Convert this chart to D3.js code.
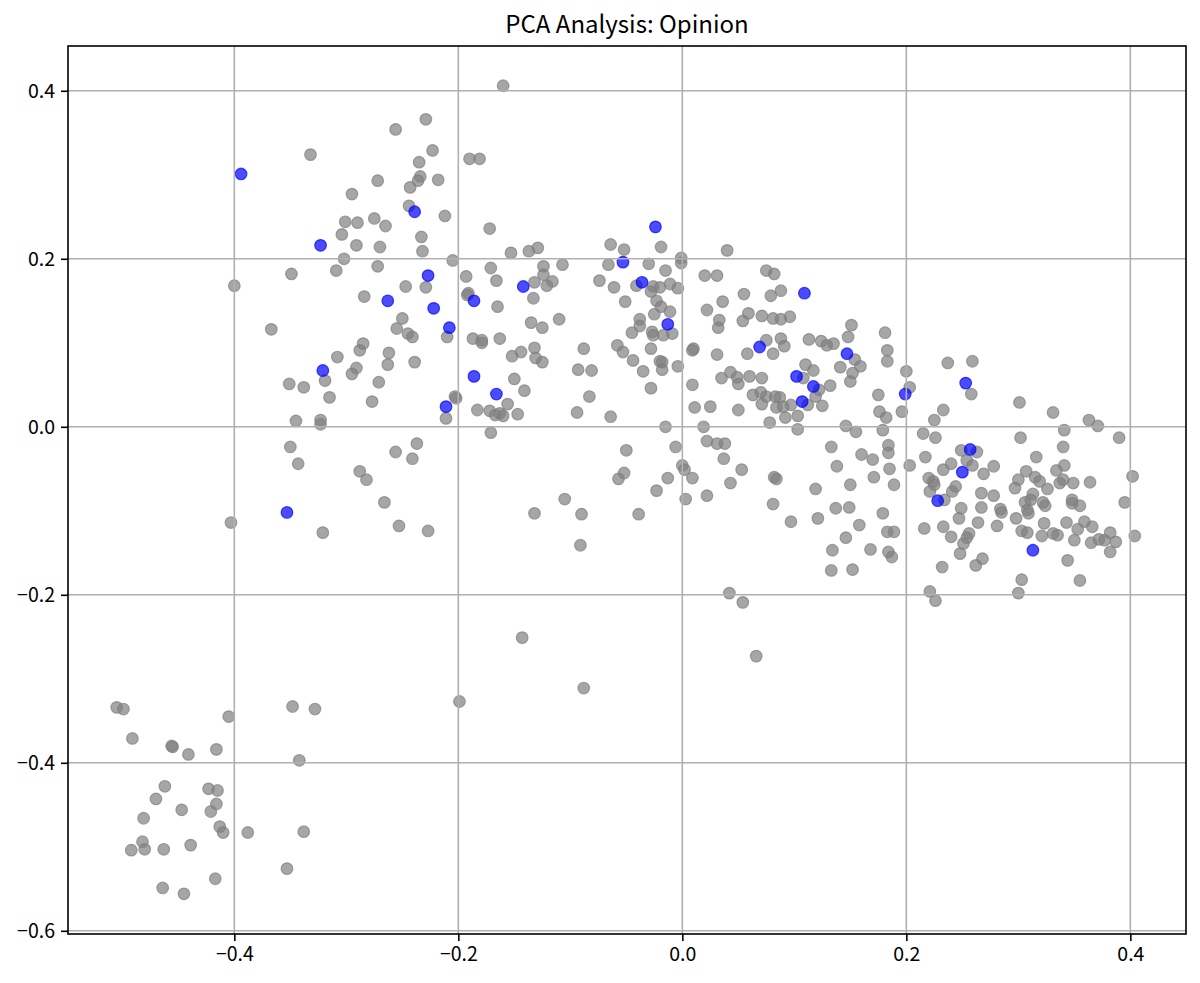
<!DOCTYPE html>
<html>
<head>
<meta charset="utf-8">
<script src="https://cdn.jsdelivr.net/npm/d3@7"></script>
<style>
  body { margin: 0; background: #fff; }
  svg text { font-family: "Noto Sans CJK JP", "Noto Sans", sans-serif; }
</style>
</head>
<body>
<svg id="pca-chart" width="1200" height="983"></svg>
<script>
const chartTitle = "PCA Analysis: Opinion";

const xTicks = [-0.4, -0.2, 0.0, 0.2, 0.4];
const yTicks = [-0.6, -0.4, -0.2, 0.0, 0.2, 0.4];

// grey points (all other documents)
const otherPoints = [
  [-0.160,0.406],[-0.229,0.366],[-0.256,0.354],[-0.332,0.324],[-0.223,0.329],[-0.235,0.315],
  [-0.190,0.319],[-0.181,0.319],[-0.272,0.293],[-0.234,0.298],[-0.236,0.293],[-0.243,0.285],
  [-0.218,0.294],[-0.295,0.277],[-0.244,0.263],[-0.212,0.251],[-0.301,0.244],[-0.290,0.243],
  [-0.275,0.248],[-0.265,0.239],[-0.172,0.236],[-0.304,0.229],[-0.291,0.216],[-0.270,0.214],
  [-0.233,0.226],[-0.232,0.209],[-0.153,0.207],[-0.302,0.200],[-0.309,0.186],[-0.272,0.191],
  [-0.205,0.198],[-0.349,0.182],[-0.400,0.168],[-0.247,0.167],[-0.229,0.166],[-0.193,0.179],
  [-0.171,0.189],[-0.166,0.174],[-0.191,0.159],[-0.192,0.157],[-0.165,0.143],[-0.284,0.155],
  [-0.250,0.129],[-0.367,0.116],[-0.255,0.117],[-0.245,0.111],[-0.241,0.107],[-0.210,0.107],
  [-0.187,0.105],[-0.179,0.103],[-0.179,0.100],[-0.163,0.105],[-0.285,0.099],[-0.288,0.091],
  [-0.308,0.083],[-0.262,0.088],[-0.263,0.074],[-0.239,0.077],[-0.291,0.070],[-0.295,0.063],
  [-0.319,0.055],[-0.271,0.053],[-0.351,0.051],[-0.338,0.047],[-0.203,0.036],[-0.202,0.034],
  [-0.315,0.035],[-0.277,0.030],[-0.211,0.010],[-0.183,0.020],[-0.172,0.019],[-0.167,0.014],
  [-0.163,0.016],[-0.345,0.007],[-0.323,0.008],[-0.323,0.003],[-0.171,-0.007],[-0.350,-0.024],
  [-0.237,-0.020],[-0.256,-0.030],[-0.241,-0.038],[-0.343,-0.044],[-0.288,-0.053],[-0.282,-0.063],
  [-0.266,-0.090],[-0.403,-0.114],[-0.253,-0.118],[-0.227,-0.124],[-0.321,-0.126],
  [-0.137,0.209],[-0.129,0.213],[-0.064,0.217],[-0.052,0.211],[-0.019,0.214],[0.040,0.210],
  [-0.001,0.201],[-0.001,0.195],[-0.124,0.191],[-0.107,0.193],[-0.066,0.193],[-0.030,0.194],
  [-0.015,0.186],[-0.124,0.181],[-0.116,0.173],[-0.121,0.168],[-0.132,0.172],[-0.133,0.153],
  [-0.074,0.174],[-0.061,0.166],[-0.041,0.168],[-0.026,0.167],[-0.020,0.166],[-0.011,0.170],
  [-0.004,0.165],[-0.028,0.161],[-0.051,0.149],[-0.023,0.150],[-0.019,0.143],[-0.011,0.137],
  [-0.025,0.134],[0.020,0.180],[0.031,0.180],[0.036,0.149],[0.022,0.139],[0.033,0.127],
  [0.032,0.118],[-0.135,0.124],[-0.125,0.118],[-0.110,0.128],[-0.038,0.128],[-0.038,0.120],
  [-0.045,0.112],[-0.027,0.113],[-0.026,0.109],[-0.017,0.109],[-0.009,0.111],[-0.144,0.089],
  [-0.152,0.084],[-0.132,0.094],[-0.131,0.082],[-0.125,0.077],[-0.088,0.093],[-0.058,0.097],
  [-0.053,0.089],[-0.028,0.093],[-0.044,0.079],[-0.020,0.078],[-0.018,0.077],[-0.018,0.068],
  [-0.004,0.072],[-0.035,0.066],[0.010,0.093],[0.009,0.091],[0.031,0.086],[-0.093,0.068],
  [-0.081,0.067],[-0.150,0.057],[-0.141,0.043],[-0.028,0.046],[0.009,0.050],[0.035,0.058],
  [0.043,0.065],[0.049,0.059],[0.050,0.051],[-0.083,0.036],[-0.156,0.027],[-0.160,0.013],
  [-0.147,0.015],[-0.094,0.017],[-0.064,0.012],[0.011,0.023],[0.025,0.024],[0.050,0.020],
  [-0.015,0.000],[0.019,0.000],[-0.050,-0.028],[-0.006,-0.024],[0.022,-0.017],[0.031,-0.020],
  [0.038,-0.020],[0.037,-0.038],[0.000,-0.046],[0.002,-0.051],[0.009,-0.061],[-0.013,-0.061],
  [-0.052,-0.055],[-0.057,-0.062],[0.053,-0.051],[0.043,-0.067],[-0.023,-0.076],[0.003,-0.086],
  [0.022,-0.082],[-0.105,-0.086],[-0.132,-0.103],[-0.090,-0.104],[-0.039,-0.104],[-0.091,-0.141],
  [0.042,-0.198],[0.054,-0.209],[-0.143,-0.251],[-0.088,-0.311],[-0.199,-0.327],[0.066,-0.273],
  [0.075,0.186],[0.082,0.182],[0.055,0.158],[0.079,0.156],[0.088,0.162],[0.059,0.135],
  [0.054,0.126],[0.071,0.132],[0.081,0.129],[0.088,0.128],[0.096,0.131],[0.151,0.121],
  [0.148,0.107],[0.181,0.112],[0.075,0.103],[0.088,0.105],[0.091,0.096],[0.081,0.087],
  [0.058,0.087],[0.113,0.104],[0.124,0.102],[0.129,0.097],[0.135,0.099],[0.154,0.080],
  [0.159,0.072],[0.141,0.071],[0.183,0.091],[0.183,0.078],[0.237,0.076],[0.259,0.078],
  [0.108,0.058],[0.110,0.074],[0.117,0.067],[0.060,0.060],[0.071,0.058],[0.152,0.064],
  [0.150,0.054],[0.200,0.066],[0.258,0.039],[0.132,0.049],[0.122,0.044],[0.119,0.036],
  [0.063,0.038],[0.070,0.041],[0.075,0.036],[0.083,0.036],[0.087,0.035],[0.071,0.027],
  [0.084,0.023],[0.090,0.024],[0.097,0.026],[0.112,0.026],[0.125,0.025],[0.092,0.011],
  [0.103,0.013],[0.078,0.005],[0.103,-0.003],[0.175,0.038],[0.203,0.047],[0.176,0.018],
  [0.182,0.011],[0.196,0.018],[0.233,0.020],[0.225,0.008],[0.146,0.001],[0.155,-0.006],
  [0.179,-0.004],[0.215,-0.008],[0.226,-0.013],[0.133,-0.024],[0.184,-0.022],[0.082,-0.060],
  [0.084,-0.062],[0.138,-0.047],[0.160,-0.033],[0.170,-0.039],[0.184,-0.031],[0.185,-0.050],
  [0.171,-0.060],[0.189,-0.069],[0.203,-0.046],[0.217,-0.036],[0.220,-0.061],[0.224,-0.065],
  [0.225,-0.069],[0.221,-0.077],[0.119,-0.074],[0.150,-0.069],[0.081,-0.092],[0.097,-0.113],
  [0.121,-0.109],[0.137,-0.097],[0.149,-0.096],[0.179,-0.103],[0.158,-0.117],[0.183,-0.125],
  [0.189,-0.125],[0.146,-0.132],[0.134,-0.147],[0.168,-0.146],[0.184,-0.149],[0.187,-0.155],
  [0.216,-0.121],[0.133,-0.171],[0.152,-0.170],[0.221,-0.196],[0.226,-0.207],
  [0.301,0.029],[0.331,0.017],[0.363,0.008],[0.371,0.001],[0.390,-0.013],[0.341,-0.004],
  [0.340,-0.024],[0.302,-0.013],[0.249,-0.028],[0.263,-0.030],[0.316,-0.036],[0.240,-0.044],
  [0.233,-0.051],[0.254,-0.040],[0.259,-0.046],[0.269,-0.056],[0.278,-0.047],[0.307,-0.053],
  [0.300,-0.063],[0.297,-0.073],[0.315,-0.060],[0.319,-0.065],[0.326,-0.074],[0.334,-0.052],
  [0.341,-0.046],[0.340,-0.063],[0.337,-0.067],[0.349,-0.067],[0.364,-0.066],[0.402,-0.059],
  [0.244,-0.071],[0.241,-0.077],[0.234,-0.087],[0.267,-0.079],[0.278,-0.082],[0.313,-0.080],
  [0.311,-0.087],[0.306,-0.090],[0.308,-0.099],[0.309,-0.103],[0.322,-0.090],[0.324,-0.094],
  [0.348,-0.087],[0.348,-0.091],[0.355,-0.094],[0.395,-0.090],[0.249,-0.097],[0.247,-0.109],
  [0.267,-0.096],[0.284,-0.098],[0.285,-0.102],[0.298,-0.109],[0.264,-0.114],[0.281,-0.118],
  [0.233,-0.119],[0.323,-0.115],[0.343,-0.114],[0.359,-0.113],[0.366,-0.119],[0.353,-0.122],
  [0.303,-0.124],[0.308,-0.126],[0.321,-0.130],[0.331,-0.127],[0.335,-0.129],[0.240,-0.131],
  [0.256,-0.127],[0.254,-0.132],[0.251,-0.139],[0.248,-0.151],[0.350,-0.135],[0.365,-0.138],
  [0.372,-0.134],[0.377,-0.135],[0.382,-0.126],[0.387,-0.137],[0.382,-0.149],[0.404,-0.130],
  [0.344,-0.159],[0.268,-0.157],[0.262,-0.165],[0.232,-0.167],[0.303,-0.182],[0.300,-0.198],
  [0.355,-0.183],
  [-0.505,-0.334],[-0.499,-0.336],[-0.405,-0.345],[-0.491,-0.371],[-0.455,-0.381],[-0.456,-0.380],
  [-0.441,-0.390],[-0.416,-0.384],[-0.348,-0.333],[-0.328,-0.336],[-0.342,-0.397],[-0.462,-0.428],
  [-0.470,-0.443],[-0.423,-0.431],[-0.415,-0.433],[-0.416,-0.449],[-0.421,-0.458],[-0.447,-0.456],
  [-0.481,-0.466],[-0.413,-0.476],[-0.410,-0.483],[-0.388,-0.483],[-0.338,-0.482],[-0.482,-0.494],
  [-0.480,-0.503],[-0.492,-0.504],[-0.463,-0.503],[-0.439,-0.498],[-0.353,-0.526],[-0.417,-0.538],
  [-0.464,-0.549],[-0.445,-0.556]
];

// blue points (highlighted documents)
const highlightPoints = [
  [-0.394,0.301],[-0.239,0.256],[-0.323,0.216],[-0.227,0.180],[-0.186,0.150],[-0.263,0.150],
  [-0.222,0.141],[-0.208,0.118],[-0.321,0.067],[-0.186,0.060],[-0.211,0.024],[-0.353,-0.102],
  [-0.024,0.238],[-0.053,0.196],[-0.142,0.167],[-0.036,0.172],[-0.013,0.122],[-0.166,0.039],
  [0.109,0.159],[0.069,0.095],[0.147,0.087],[0.102,0.060],[0.253,0.052],[0.117,0.048],
  [0.107,0.030],[0.199,0.039],[0.228,-0.088],[0.257,-0.027],[0.250,-0.054],[0.313,-0.147]
];

(function drawPcaScatter() {
  const svg = d3.select("#pca-chart");
  const width = 1200;
  const height = 983;

  const margin = { top: 46, right: 14, bottom: 49, left: 68 };
  const innerWidth = width - margin.left - margin.right;
  const innerHeight = height - margin.top - margin.bottom;

  const x = d3.scaleLinear()
    .domain([-0.5485, 0.4497])
    .range([0, innerWidth]);

  const y = d3.scaleLinear()
    .domain([-0.6038, 0.4533])
    .range([innerHeight, 0]);

  const fmt = d3.format(".1f");

  const g = svg.append("g")
    .attr("transform", `translate(${margin.left},${margin.top})`);

  // points
  const pointGroup = g.append("g");

  pointGroup.selectAll("circle.other")
    .data(otherPoints)
    .enter()
    .append("circle")
    .attr("class", "other")
    .attr("cx", d => x(d[0]))
    .attr("cy", d => y(d[1]))
    .attr("r", 5.8)
    .attr("fill", "#808080")
    .attr("fill-opacity", 0.7)
    .attr("stroke", "#808080")
    .attr("stroke-opacity", 0.7)
    .attr("stroke-width", 1.2);

  pointGroup.selectAll("circle.highlight")
    .data(highlightPoints)
    .enter()
    .append("circle")
    .attr("class", "highlight")
    .attr("cx", d => x(d[0]))
    .attr("cy", d => y(d[1]))
    .attr("r", 5.8)
    .attr("fill", "#0000ff")
    .attr("fill-opacity", 0.7)
    .attr("stroke", "#0000ff")
    .attr("stroke-opacity", 0.7)
    .attr("stroke-width", 1.2);

  // grid (matplotlib draws it above the scatter)
  const grid = g.append("g");

  grid.selectAll("line.vgrid")
    .data(xTicks)
    .enter()
    .append("line")
    .attr("x1", d => x(d))
    .attr("x2", d => x(d))
    .attr("y1", 0)
    .attr("y2", innerHeight)
    .attr("stroke", "#b0b0b0")
    .attr("stroke-width", 1.6);

  grid.selectAll("line.hgrid")
    .data(yTicks)
    .enter()
    .append("line")
    .attr("x1", 0)
    .attr("x2", innerWidth)
    .attr("y1", d => y(d))
    .attr("y2", d => y(d))
    .attr("stroke", "#b0b0b0")
    .attr("stroke-width", 1.6);

  // axes
  const xAxis = g.append("g")
    .attr("transform", `translate(0,${innerHeight})`)
    .call(d3.axisBottom(x).tickValues(xTicks).tickFormat(fmt).tickSize(7).tickPadding(6));

  const yAxis = g.append("g")
    .call(d3.axisLeft(y).tickValues(yTicks).tickFormat(fmt).tickSize(7).tickPadding(6));

  [xAxis, yAxis].forEach(ax => {
    ax.select(".domain").remove();
    ax.selectAll(".tick line").attr("stroke", "#000").attr("stroke-width", 1.6);
    ax.selectAll(".tick text")
      .attr("fill", "#000")
      .attr("font-size", "19.5px")
      .style("font-family", "'Noto Sans CJK JP', 'Noto Sans', sans-serif");
  });

  // frame
  g.append("rect")
    .attr("width", innerWidth)
    .attr("height", innerHeight)
    .attr("fill", "none")
    .attr("stroke", "#000")
    .attr("stroke-width", 1.6);

  svg.append("text")
    .attr("x", margin.left + innerWidth / 2)
    .attr("y", margin.top - 13)
    .attr("text-anchor", "middle")
    .attr("font-size", "24px")
    .attr("fill", "#000")
    .text(chartTitle);
})();
</script>
</body>
</html>
